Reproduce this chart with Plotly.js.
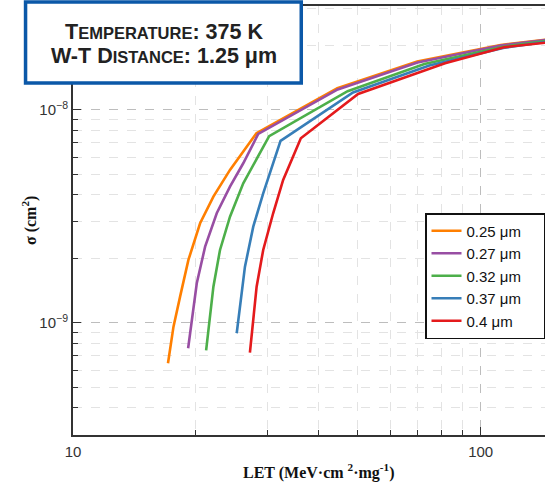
<!DOCTYPE html>
<html>
<head>
<meta charset="utf-8">
<script src="https://cdn.plot.ly/plotly-3.0.1.min.js"></script>
<style>
  html, body { margin: 0; padding: 0; background: #fff; overflow: hidden; }
  #chart { width: 545px; height: 484px; }
</style>
</head>
<body>
<div id="chart"></div>
<script>
// ---- data ----
const seriesNames = ['0.25 μm', '0.27 μm', '0.32 μm', '0.37 μm', '0.4 μm'];
const seriesColors = ['#ff7f00', '#984ea3', '#4daf4a', '#377eb8', '#e41a1c'];

const let025 = [17.10, 17.64, 18.31, 19.19, 20.50, 22.10, 24.27, 28.18, 44.50, 69.88, 111.9, 145];
const sig025 = [6.47e-10, 9.61e-10, 1.329e-9, 1.976e-9, 2.938e-9, 3.917e-9, 5.23e-9, 7.775e-9, 1.264e-8, 1.686e-8, 2.019e-8, 2.14e-8];

const let027 = [19.16, 20.12, 21.09, 22.52, 24.27, 26.16, 28.47, 44.6, 70.0, 111.9, 145];
const sig027 = [7.61e-10, 1.536e-9, 2.282e-9, 3.273e-9, 4.363e-9, 5.62e-9, 7.72e-9, 1.248e-8, 1.671e-8, 2.008e-8, 2.13e-8];

const let032 = [21.21, 22.10, 22.94, 24.27, 26.16, 30.28, 47.17, 72.77, 112.9, 145];
const sig032 = [7.43e-10, 1.48e-9, 2.202e-9, 3.155e-9, 4.527e-9, 7.527e-9, 1.225e-8, 1.644e-8, 1.976e-8, 2.11e-8];

const let037 = [25.21, 26.41, 27.68, 29.28, 32.29, 48.63, 74.82, 113.5, 145];
const sig037 = [8.945e-10, 1.837e-9, 2.832e-9, 4.063e-9, 7.154e-9, 1.208e-8, 1.618e-8, 1.955e-8, 2.09e-8];

const let040 = [27.16, 28.21, 29.28, 30.97, 32.77, 36.21, 50.04, 81.75, 114.1, 145];
const sig040 = [7.255e-10, 1.48e-9, 2.202e-9, 3.273e-9, 4.69e-9, 7.365e-9, 1.189e-8, 1.656e-8, 1.97e-8, 2.07e-8];

const xTickVals = [10, 100];
const xTickText = ['10', '100'];
const yTickVals = [1e-9, 1e-8];
const yTickText = ['10<sup>−9</sup>', '10<sup>−8</sup>'];

const titleLine1 = '<b>T<span style="font-size:16.5px">EMPERATURE</span>: 375 K</b>';
const titleLine2 = '<b>W-T D<span style="font-size:16.5px">ISTANCE</span>: 1.25 μm</b>';
const xTitle = '<b>LET (MeV·cm <sup>2</sup>·mg<sup>-1</sup>)</b>';
const yTitle = '<b>σ (cm<sup>2</sup>)</b>';

// ---- build traces ----
const xs = [let025, let027, let032, let037, let040];
const ys = [sig025, sig027, sig032, sig037, sig040];
const legendPad = '\u00a0\u00a0\u00a0\u00a0';
const traces = xs.map((x, i) => ({
  x: x, y: ys[i], type: 'scatter', mode: 'lines', name: seriesNames[i] + legendPad,
  line: { color: seriesColors[i], width: 2.6 }
}));

const W = 545, H = 484;
const mL = 72.5, mR = 0, mT = 6, mB = 49;
const pw = W - mL - mR, ph = H - mT - mB;
const px2paperX = p => (p - mL) / pw;
const px2paperY = p => (H - mB - p) / ph;

const gridMajor = '#bdbdbd';
const gridMinor = '#e3e3e3';
const axisCol = '#333333';
const sansFont = 'Liberation Sans, Arial, sans-serif';

const layout = {
  width: W, height: H,
  margin: { l: mL, r: mR, t: mT, b: mB, pad: 0 },
  paper_bgcolor: '#ffffff', plot_bgcolor: '#ffffff',
  font: { family: sansFont, size: 15, color: '#333' },
  showlegend: true,
  xaxis: {
    type: 'log', range: [1, Math.log10(143.8)],
    tickmode: 'array', tickvals: xTickVals, ticktext: xTickText,
    ticks: 'inside', ticklen: 8, tickwidth: 1.2, tickcolor: axisCol,
    showline: true, linecolor: axisCol, linewidth: 2, mirror: true,
    showgrid: true, gridcolor: gridMajor, griddash: 'dash', gridwidth: 1,
    zeroline: false, ticklabelstandoff: 2,
    tickfont: { family: sansFont, size: 15, color: '#333' },
    minor: { dtick: 'D1', ticks: 'inside', ticklen: 5, tickwidth: 1, tickcolor: axisCol,
             showgrid: true, gridcolor: gridMinor, griddash: 'dash', gridwidth: 1 }
  },
  yaxis: {
    type: 'log', range: [-9.526, -7.512],
    tickmode: 'array', tickvals: yTickVals, ticktext: yTickText,
    ticks: 'inside', ticklen: 8, tickwidth: 1.2, tickcolor: axisCol,
    showline: true, linecolor: axisCol, linewidth: 2, mirror: false,
    showgrid: true, gridcolor: gridMajor, griddash: 'dash', gridwidth: 1,
    zeroline: false,
    tickfont: { family: sansFont, size: 15, color: '#333' },
    minor: { dtick: 'D1', ticks: 'inside', ticklen: 5, tickwidth: 1, tickcolor: axisCol,
             showgrid: true, gridcolor: gridMinor, griddash: 'dash', gridwidth: 1 }
  },
  legend: {
    x: 1, xanchor: 'right', xref: 'paper',
    y: px2paperY(213), yanchor: 'top', yref: 'paper',
    bgcolor: '#ffffff', bordercolor: '#111111', borderwidth: 1.5,
    font: { family: sansFont, size: 15, color: '#111' },
    tracegroupgap: 0
  },
  shapes: [
    {
      type: 'rect', xref: 'paper', yref: 'paper', layer: 'above',
      x0: px2paperX(25), x1: px2paperX(301), y0: px2paperY(2), y1: px2paperY(83),
      fillcolor: '#ffffff', line: { color: '#0b58a8', width: 3.5 }
    }
  ],
  annotations: [
    {
      xref: 'paper', yref: 'paper',
      x: px2paperX(164), y: px2paperY(31.5), xanchor: 'center', yanchor: 'middle',
      text: titleLine1, showarrow: false,
      font: { family: sansFont, size: 21.5, color: '#222' }
    },
    {
      xref: 'paper', yref: 'paper',
      x: px2paperX(164), y: px2paperY(56.5), xanchor: 'center', yanchor: 'middle',
      text: titleLine2, showarrow: false,
      font: { family: sansFont, size: 21.5, color: '#222' }
    },
    {
      xref: 'paper', yref: 'paper',
      x: px2paperX(319), y: px2paperY(471), xanchor: 'center', yanchor: 'middle',
      text: xTitle, showarrow: false,
      font: { family: 'Liberation Serif, Times New Roman, serif', size: 16, color: '#111' }
    },
    {
      xref: 'paper', yref: 'paper',
      x: px2paperX(29), y: 0.5, xanchor: 'center', yanchor: 'middle',
      text: yTitle, showarrow: false, textangle: -90,
      font: { family: 'Liberation Serif, Times New Roman, serif', size: 16, color: '#111' }
    }
  ]
};

Plotly.newPlot('chart', traces, layout, { displayModeBar: false, responsive: false });
</script>
</body>
</html>
